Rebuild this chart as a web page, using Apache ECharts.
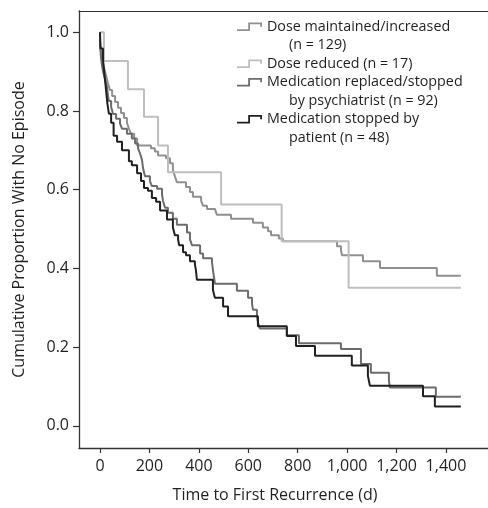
<!DOCTYPE html>
<html><head><meta charset="utf-8">
<script src="https://cdn.jsdelivr.net/npm/echarts@6/dist/echarts.min.js"></script>
<style>html,body{margin:0;padding:0;background:#fff}#c{width:488px;height:508px}</style>
</head><body><div id="c"></div>
<script>
// ---- data ----
const seriesNames = ['Dose maintained/increased', 'Dose reduced (n = 17)', 'Medication replaced/stopped', 'Medication stopped by'];
const legendSubLines = ['(n = 129)', 'by psychiatrist (n = 92)', 'patient (n = 48)'];
const xTicks = [0, 200, 400, 600, 800, 1000, 1200, 1400];
const yTicks = [0, 0.2, 0.4, 0.6, 0.8, 1.0];

const maintainedDays = [0, 0, 4, 8, 16, 24, 32, 40, 49, 61, 73, 85, 97, 109, 117, 125, 138, 150, 206, 222, 235, 267, 283, 295, 303, 311, 348, 364, 376, 409, 417, 433, 465, 473, 530, 619, 659, 680, 692, 724, 740, 959, 975, 979, 1064, 1133, 1363, 1460];
const maintainedSurv = [1.0, 0.976, 0.951, 0.931, 0.911, 0.891, 0.871, 0.853, 0.838, 0.823, 0.808, 0.795, 0.782, 0.770, 0.755, 0.742, 0.730, 0.712, 0.705, 0.697, 0.687, 0.680, 0.667, 0.650, 0.634, 0.619, 0.607, 0.594, 0.582, 0.572, 0.559, 0.551, 0.546, 0.536, 0.526, 0.516, 0.504, 0.494, 0.484, 0.476, 0.469, 0.456, 0.446, 0.433, 0.418, 0.401, 0.381, 0.381];

const reducedDays = [0, 16, 113, 178, 235, 275, 490, 735, 1006, 1460];
const reducedSurv = [1.0, 0.927, 0.855, 0.785, 0.712, 0.644, 0.562, 0.469, 0.351, 0.351];

const replacedDays = [0, 0, 4, 8, 12, 20, 28, 32, 36, 45, 53, 65, 81, 89, 109, 129, 142, 154, 162, 170, 174, 182, 202, 210, 231, 251, 255, 263, 275, 295, 311, 352, 364, 372, 405, 417, 453, 457, 461, 465, 554, 599, 615, 619, 635, 639, 647, 756, 805, 975, 1056, 1096, 1169, 1173, 1359, 1460];
const replacedSurv = [1.0, 0.969, 0.936, 0.916, 0.901, 0.881, 0.861, 0.840, 0.825, 0.810, 0.792, 0.780, 0.768, 0.755, 0.742, 0.730, 0.717, 0.705, 0.692, 0.675, 0.655, 0.634, 0.622, 0.609, 0.602, 0.587, 0.572, 0.554, 0.541, 0.526, 0.511, 0.491, 0.474, 0.459, 0.438, 0.426, 0.416, 0.396, 0.378, 0.361, 0.343, 0.325, 0.310, 0.295, 0.278, 0.263, 0.247, 0.230, 0.210, 0.195, 0.157, 0.135, 0.115, 0.097, 0.074, 0.074];

const patientDays = [0, 2, 12, 18, 24, 30, 36, 45, 55, 69, 89, 117, 129, 150, 166, 178, 194, 210, 227, 243, 271, 295, 303, 316, 320, 336, 348, 364, 384, 388, 392, 457, 465, 498, 518, 639, 756, 793, 870, 1019, 1084, 1092, 1307, 1355, 1460];
const patientSurv = [1.0, 0.959, 0.931, 0.893, 0.856, 0.818, 0.793, 0.770, 0.737, 0.722, 0.700, 0.672, 0.662, 0.642, 0.622, 0.604, 0.597, 0.579, 0.569, 0.547, 0.524, 0.504, 0.484, 0.474, 0.459, 0.441, 0.433, 0.418, 0.410, 0.396, 0.371, 0.345, 0.325, 0.303, 0.278, 0.253, 0.228, 0.203, 0.178, 0.153, 0.127, 0.102, 0.075, 0.049, 0.049];

// ---- chart ----
const zip = (a, b) => a.map((v, i) => [v, b[i]]);
const colors = ['#909090', '#bebebe', '#6c6c6c', '#231f20'];
const FONT = 'Open Sans';
const TXT = '#231f20';
const X_MIN = -85, X_MAX = 1570, Y_MIN = -0.0565, Y_MAX = 1.054;

const curveData = [zip(maintainedDays, maintainedSurv), zip(reducedDays, reducedSurv), zip(replacedDays, replacedSurv), zip(patientDays, patientSurv)];
const series = curveData.map((d, i) => ({
  name: seriesNames[i], type: 'line', step: 'end', data: d, showSymbol: false, symbol: 'none',
  color: colors[i], lineStyle: { width: 2, color: colors[i] }, z: 2 + i, silent: true
}));
legendSubLines.forEach(n => series.push({ name: n, type: 'line', data: [], color: 'rgba(0,0,0,0)', symbol: 'none' }));

const stepIcon = 'path://M0,6.6 L11.2,6.6 L11.2,0 L25,0 L25,4.2 L23.2,4.2 L23.2,1.8 L13,1.8 L13,8.4 L0,8.4 Z';
const fmtThousands = v => String(v).replace(/\B(?=(\d{3})+(?!\d))/g, ',');

const chart = echarts.init(document.getElementById('c'), null, { renderer: 'canvas' });
chart.setOption({
  animation: false,
  backgroundColor: '#fff',
  grid: { left: 79, right: 0, top: 11, bottom: 55, containLabel: false },
  legend: {
    orient: 'vertical', left: 237, top: 17.5, padding: 0, itemGap: 0,
    itemWidth: 25, itemHeight: 9, icon: stepIcon, selectedMode: false,
    data: [seriesNames[0], legendSubLines[0], seriesNames[1], seriesNames[2], legendSubLines[1], seriesNames[3], legendSubLines[2]],
    formatter: n => legendSubLines.includes(n) ? '{pad| }' + n : n,
    textStyle: { fontFamily: FONT, fontSize: 14.3, color: TXT, lineHeight: 18.5,
      rich: { pad: { width: 22, fontFamily: FONT, fontSize: 14.3, lineHeight: 18.5 } } }
  },
  xAxis: [{
    type: 'value', min: X_MIN, max: X_MAX, position: 'bottom',
    name: 'Time to First Recurrence (d)', nameLocation: 'middle', nameGap: 39,
    nameTextStyle: { fontFamily: FONT, fontSize: 16, color: TXT, padding: [0, 17, 0, 0] },
    axisLine: { show: true, onZero: false, lineStyle: { color: '#333', width: 1.3 } },
    axisTick: { show: true, customValues: xTicks, length: 5, lineStyle: { color: '#333', width: 1.2 } },
    axisLabel: { customValues: xTicks, formatter: fmtThousands, margin: 10, fontFamily: FONT, fontSize: 16, color: TXT },
    splitLine: { show: false }
  }, {
    type: 'value', min: X_MIN, max: X_MAX, position: 'top',
    axisLine: { show: true, onZero: false, lineStyle: { color: '#333', width: 1.2 } },
    axisTick: { show: false }, axisLabel: { show: false }, splitLine: { show: false }
  }],
  yAxis: {
    type: 'value', min: Y_MIN, max: Y_MAX,
    name: 'Cumulative Proportion With No Episode', nameLocation: 'middle', nameGap: 52, nameRotate: 90,
    nameTextStyle: { fontFamily: FONT, fontSize: 16, color: TXT },
    axisLine: { show: true, onZero: false, lineStyle: { color: '#333', width: 1.3 } },
    axisTick: { show: true, customValues: yTicks, length: 6, lineStyle: { color: '#333', width: 1.2 } },
    axisLabel: { customValues: yTicks, formatter: v => v.toFixed(1), margin: 10, fontFamily: FONT, fontSize: 16, color: TXT },
    splitLine: { show: false }
  },
  series: series
});
</script></body></html>
